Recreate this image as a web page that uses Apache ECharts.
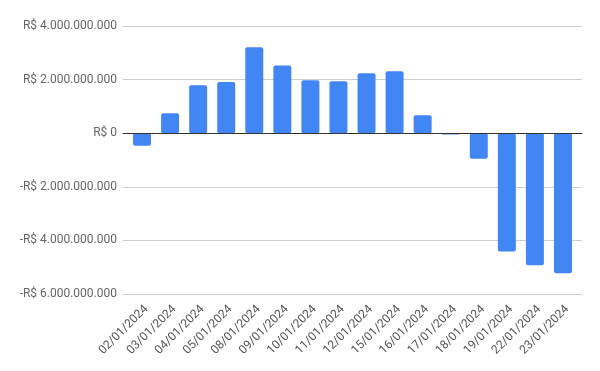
<!DOCTYPE html>
<html>
<head>
<meta charset="utf-8">
<script src="https://cdn.jsdelivr.net/npm/echarts@6/dist/echarts.min.js"></script>
<style>html,body{margin:0;padding:0;background:#fff}#c{width:600px;height:371px}</style>
</head>
<body>
<div id="c"></div>
<script>
const categories = ["02/01/2024","03/01/2024","04/01/2024","05/01/2024","08/01/2024","09/01/2024","10/01/2024","11/01/2024","12/01/2024","15/01/2024","16/01/2024","17/01/2024","18/01/2024","19/01/2024","22/01/2024","23/01/2024"];
const values = [-470000000, 745000000, 1790000000, 1910000000, 3205000000, 2530000000, 1975000000, 1940000000, 2240000000, 2310000000, 670000000, -50000000, -950000000, -4410000000, -4930000000, -5230000000];
const yTicks = [-6000000000, -4000000000, -2000000000, 0, 2000000000, 4000000000];

function fmt(v) {
  if (v === 0) return 'R$ 0';
  const s = Math.abs(v).toString().replace(/\B(?=(\d{3})+(?!\d))/g, '.');
  return (v < 0 ? '-' : '') + 'R$ ' + s;
}

const yMin = yTicks[0], yMax = yTicks[yTicks.length - 1];
const chart = echarts.init(document.getElementById('c'), null, {renderer: 'canvas'});
chart.setOption({
  animation: false,
  textStyle: {fontFamily: 'Roboto'},
  grid: [
    {left: 123, right: 18, top: 26, bottom: 77},
    {left: 128, right: 23, top: 26, bottom: 77}
  ],
  xAxis: [
    {
      gridIndex: 0, type: 'value', min: 0, max: 1, z: 5,
      axisLine: {show: true, onZero: true, lineStyle: {color: '#333', width: 1}},
      axisTick: {show: false}, axisLabel: {show: false}, splitLine: {show: false}
    },
    {
      gridIndex: 1, type: 'category', data: categories,
      axisLine: {show: false}, axisTick: {show: false},
      axisLabel: {rotate: 45, color: '#555', fontSize: 12, fontFamily: 'Roboto', margin: 9, interval: 0, verticalAlign: 'top'}
    }
  ],
  yAxis: [
    {
      gridIndex: 0, type: 'value', min: yMin, max: yMax, interval: 2000000000,
      axisLine: {show: false}, axisTick: {show: false},
      splitLine: {lineStyle: {color: '#cccccc', width: 1}},
      axisLabel: {color: '#666', fontSize: 12, fontFamily: 'Roboto', margin: 6, formatter: fmt}
    },
    {
      gridIndex: 1, type: 'value', min: yMin, max: yMax, interval: 2000000000, show: false,
      splitLine: {show: false}
    }
  ],
  series: [{
    type: 'bar',
    xAxisIndex: 1, yAxisIndex: 1,
    data: values,
    barWidth: '64%',
    itemStyle: {color: '#4285F4', borderRadius: 2}
  }]
});
</script>
</body>
</html>
